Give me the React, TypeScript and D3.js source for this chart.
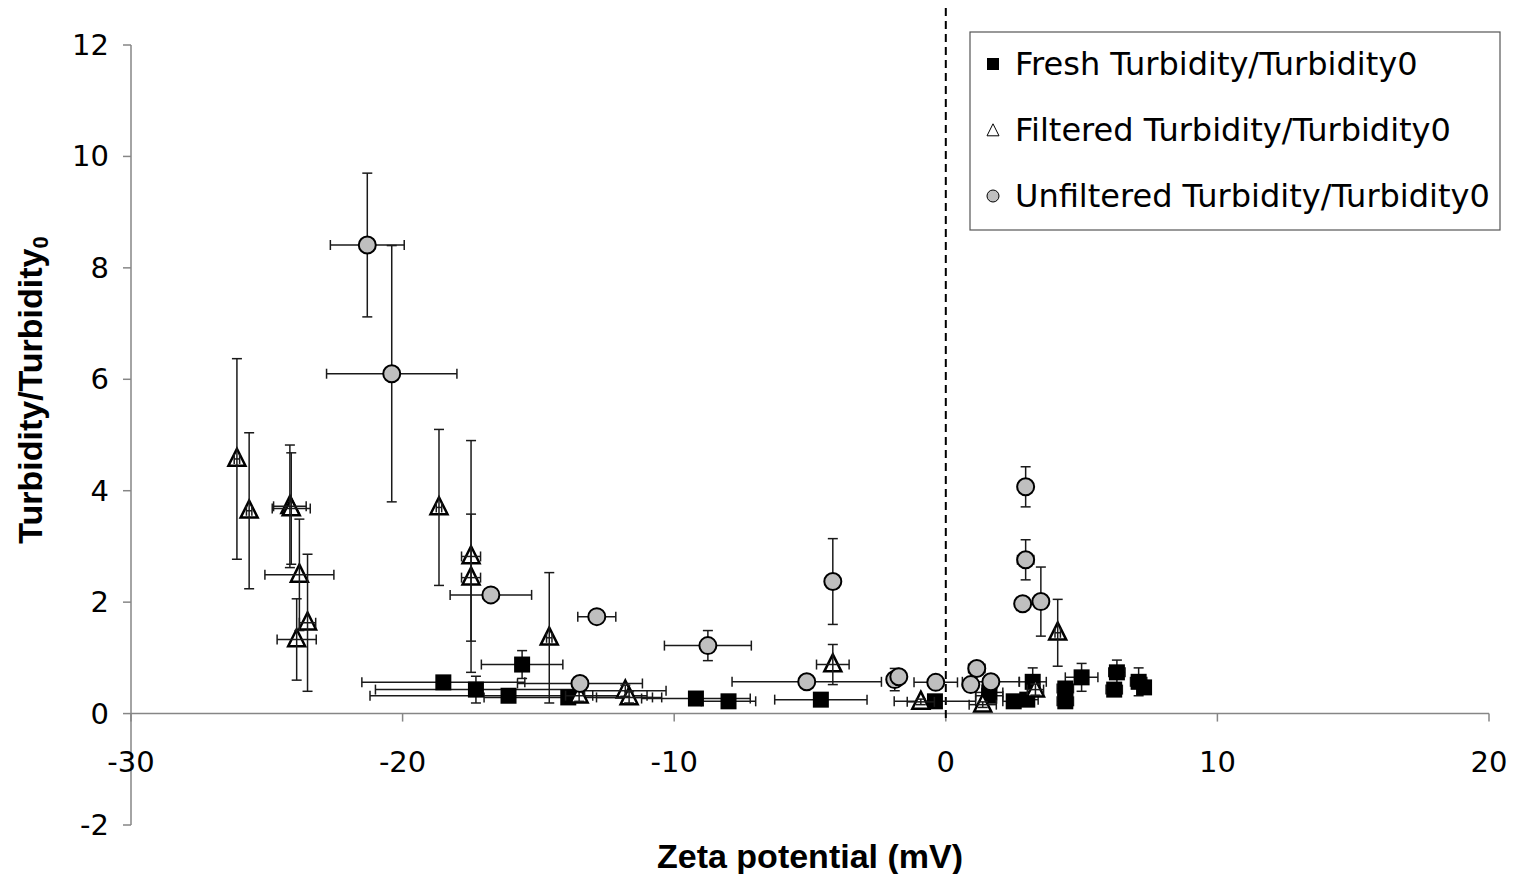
import React, { useEffect, useRef } from 'react';
import * as d3 from 'd3';

// Fresh Turbidity/Turbidity0 (black squares)
const freshX = [-18.5, -17.3, -15.6, -16.1, -13.9, -9.2, -8.0, -4.6, -0.4, 1.6, 1.6, 2.5, 3.0, 3.2, 4.4, 4.4, 5.0, 6.3, 6.2, 7.1, 7.3];
const freshY = [0.56, 0.43, 0.88, 0.32, 0.29, 0.27, 0.22, 0.25, 0.22, 0.32, 0.38, 0.22, 0.25, 0.57, 0.45, 0.22, 0.65, 0.74, 0.43, 0.57, 0.47];
const freshXErr = [3.0, 3.7, 1.5, 5.1, 3.1, 2.0, 1.0, 1.7, 1.5, 0.5, 0.5, 0.4, 0.4, 0.5, 0.3, 0.3, 0.6, 0.3, 0.3, 0.3, 0.2];
const freshYErr = [0.05, 0.24, 0.25, 0.05, 0.05, 0.03, 0.03, 0.05, 0.05, 0.1, 0.1, 0.05, 0.05, 0.25, 0.1, 0.05, 0.25, 0.22, 0.05, 0.25, 0.1];

// Filtered Turbidity/Turbidity0 (open triangles)
const filtX = [-26.1, -25.65, -24.15, -24.1, -23.8, -23.5, -23.9, -18.66, -17.48, -17.48, -14.6, -13.5, -11.8, -11.66, -4.16, -0.92, 1.36, 3.3, 4.12];
const filtY = [4.57, 3.64, 3.72, 3.68, 2.49, 1.63, 1.33, 3.7, 2.82, 2.44, 1.36, 0.32, 0.41, 0.29, 0.88, 0.21, 0.16, 0.43, 1.45];
const filtXErr = [0.1, 0.1, 0.6, 0.7, 1.27, 0.3, 0.72, 0.1, 0.35, 0.35, 0.1, 0.5, 1.5, 1.2, 0.6, 0.5, 0.5, 0.3, 0.1];
const filtYErr = [1.8, 1.4, 1.1, 1.0, 1.0, 1.23, 0.73, 1.4, 2.08, 1.14, 1.17, 0.1, 0.1, 0.1, 0.36, 0.05, 0.05, 0.1, 0.6];

// Unfiltered Turbidity/Turbidity0 (grey circles)
const unfX = [-21.3, -20.4, -16.75, -12.85, -13.47, -8.76, -4.16, -5.12, -1.88, -1.73, -0.37, 1.14, 0.92, 1.66, 2.94, 2.94, 2.83, 3.5];
const unfY = [8.41, 6.1, 2.13, 1.74, 0.54, 1.22, 2.37, 0.57, 0.61, 0.66, 0.56, 0.81, 0.52, 0.57, 4.07, 2.76, 1.97, 2.01];
const unfXErr = [1.36, 2.4, 1.5, 0.7, 2.3, 1.6, 0.1, 2.75, 0.1, 0.1, 0.8, 0.3, 0.2, 1.05, 0.1, 0.3, 0.05, 0.1];
const unfYErr = [1.29, 2.3, 0.05, 0.05, 0.05, 0.27, 0.77, 0.05, 0.2, 0.05, 0.05, 0.05, 0.05, 0.05, 0.36, 0.36, 0.05, 0.62];

const xTicks = [-30, -20, -10, 0, 10, 20];
const yTicks = [-2, 0, 2, 4, 6, 8, 10, 12];
const legendLabels = ['Fresh Turbidity/Turbidity0', 'Filtered Turbidity/Turbidity0', 'Unfiltered Turbidity/Turbidity0'];

const W = 1513;
const H = 874;
const axisColor = '#868686';
const tickFont = "'DejaVu Sans', sans-serif";
const titleFont = "'Liberation Sans', Arial, sans-serif";

const App: React.FC = () => {
  const svgRef = useRef<SVGSVGElement>(null);

  useEffect(() => {
    if (!svgRef.current) return;
    const svg = d3.select(svgRef.current);
    svg.selectAll('*').remove();

    const x = d3.scaleLinear().domain([-30, 20]).range([131, 1489]);
    const y = d3.scaleLinear().domain([-2, 12]).range([825, 45]);

    // axes
    const yAxis = svg.append('g');
    yAxis.append('line')
      .attr('x1', x(-30)).attr('x2', x(-30))
      .attr('y1', y(12)).attr('y2', y(-2))
      .attr('stroke', axisColor).attr('stroke-width', 1.5);
    yTicks.forEach(t => {
      yAxis.append('line')
        .attr('x1', x(-30) - 8).attr('x2', x(-30))
        .attr('y1', y(t)).attr('y2', y(t))
        .attr('stroke', axisColor).attr('stroke-width', 1.5);
      yAxis.append('text')
        .attr('x', x(-30) - 22).attr('y', y(t) + 10)
        .attr('text-anchor', 'end')
        .style('font-family', tickFont).style('font-size', '29px')
        .attr('fill', '#000')
        .text(t);
    });

    const xAxis = svg.append('g');
    xAxis.append('line')
      .attr('x1', x(-30)).attr('x2', x(20))
      .attr('y1', y(0)).attr('y2', y(0))
      .attr('stroke', axisColor).attr('stroke-width', 1.5);
    xTicks.forEach(t => {
      xAxis.append('line')
        .attr('x1', x(t)).attr('x2', x(t))
        .attr('y1', y(0)).attr('y2', y(0) + 8)
        .attr('stroke', axisColor).attr('stroke-width', 1.5);
      xAxis.append('text')
        .attr('x', x(t)).attr('y', y(0) + 58)
        .attr('text-anchor', 'middle')
        .style('font-family', tickFont).style('font-size', '29px')
        .attr('fill', '#000')
        .text(t);
    });

    // dashed zero line
    svg.append('line')
      .attr('x1', x(0)).attr('x2', x(0))
      .attr('y1', 8).attr('y2', y(0) + 8)
      .attr('stroke', '#000').attr('stroke-width', 2)
      .attr('stroke-dasharray', '8,5');

    // titles
    svg.append('text')
      .attr('x', 810).attr('y', 868)
      .attr('text-anchor', 'middle')
      .style('font-family', titleFont).style('font-size', '34px').style('font-weight', 'bold')
      .text('Zeta potential (mV)');

    const yt = svg.append('text')
      .attr('transform', `translate(42,${390}) rotate(-90)`)
      .attr('text-anchor', 'middle')
      .style('font-family', titleFont).style('font-size', '34px').style('font-weight', 'bold');
    yt.append('tspan').text('Turbidity/Turbidity');
    yt.append('tspan').attr('dy', 6).style('font-size', '22px').text('0');

    const cap = 5;
    const drawErr = (g: any, xs: number[], ys: number[], xe: number[], ye: number[]) => {
      xs.forEach((xv, i) => {
        const px = x(xv), py = y(ys[i]);
        const x0 = x(xv - xe[i]), x1 = x(xv + xe[i]);
        const y0 = y(ys[i] + ye[i]), y1 = y(ys[i] - ye[i]);
        const segs = [
          [x0, py, x1, py], [x0, py - cap, x0, py + cap], [x1, py - cap, x1, py + cap],
          [px, y0, px, y1], [px - cap, y0, px + cap, y0], [px - cap, y1, px + cap, y1],
        ];
        segs.forEach(s => {
          g.append('line')
            .attr('x1', s[0]).attr('y1', s[1]).attr('x2', s[2]).attr('y2', s[3])
            .attr('stroke', '#1a1a1a').attr('stroke-width', 1.5);
        });
      });
    };

    const triPath = (s: number) => `M0,${-s * 0.6}L${s / 2},${s * 0.4}L${-s / 2},${s * 0.4}Z`;

    // Fresh series
    const gF = svg.append('g');
    drawErr(gF.append('g'), freshX, freshY, freshXErr, freshYErr);
    gF.selectAll('rect.m').data(freshX).enter().append('rect')
      .attr('class', 'm')
      .attr('x', (d: number) => x(d) - 8)
      .attr('y', (_d: number, i: number) => y(freshY[i]) - 8)
      .attr('width', 16).attr('height', 16)
      .attr('fill', '#000');

    // Filtered series
    const gT = svg.append('g');
    gT.selectAll('path.m').data(filtX).enter().append('path')
      .attr('class', 'm')
      .attr('d', triPath(17))
      .attr('transform', (d: number, i: number) => `translate(${x(d)},${y(filtY[i])})`)
      .attr('fill', '#fff').attr('stroke', '#000').attr('stroke-width', 2.5);
    drawErr(gT.append('g'), filtX, filtY, filtXErr, filtYErr);

    // Unfiltered series
    const gU = svg.append('g');
    drawErr(gU.append('g'), unfX, unfY, unfXErr, unfYErr);
    gU.selectAll('circle.m').data(unfX).enter().append('circle')
      .attr('class', 'm')
      .attr('cx', (d: number) => x(d))
      .attr('cy', (_d: number, i: number) => y(unfY[i]))
      .attr('r', 8.5)
      .attr('fill', '#bfbfbf').attr('stroke', '#000').attr('stroke-width', 2);

    // legend
    const lg = svg.append('g');
    lg.append('rect')
      .attr('x', 970).attr('y', 32).attr('width', 530).attr('height', 198)
      .attr('fill', '#fff').attr('stroke', '#555').attr('stroke-width', 1.2);
    legendLabels.forEach((lab, i) => {
      const cy = 64 + i * 66;
      if (i === 0) {
        lg.append('rect').attr('x', 987).attr('y', cy - 6).attr('width', 12).attr('height', 12).attr('fill', '#000');
      } else if (i === 1) {
        lg.append('path').attr('d', triPath(12)).attr('transform', `translate(993,${cy + 1})`)
          .attr('fill', '#fff').attr('stroke', '#000').attr('stroke-width', 1);
      } else {
        lg.append('circle').attr('cx', 993).attr('cy', cy).attr('r', 6)
          .attr('fill', '#bfbfbf').attr('stroke', '#000').attr('stroke-width', 1);
      }
      lg.append('text')
        .attr('x', 1015).attr('y', cy + 11)
        .style('font-family', tickFont).style('font-size', '32px')
        .attr('fill', '#000')
        .text(lab);
    });
  }, []);

  return (
    <div style={{ position: 'absolute', left: 0, top: 0, width: W, height: H, background: '#fff' }}>
      <svg ref={svgRef} width={W} height={H}></svg>
    </div>
  );
};

export default App;
